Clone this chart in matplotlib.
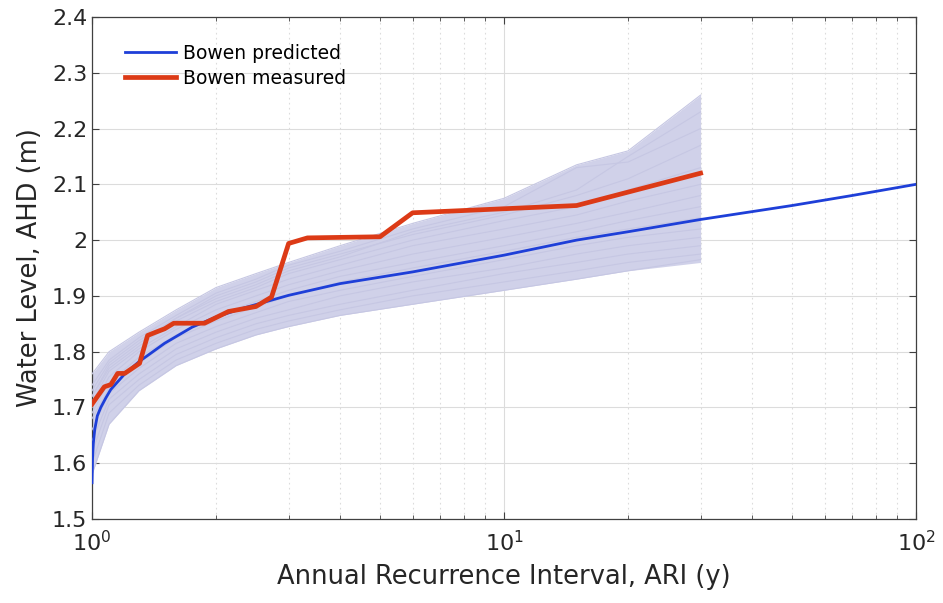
import matplotlib
matplotlib.use("Agg")
import matplotlib.pyplot as plt
from matplotlib.ticker import LogLocator, NullFormatter

# ---------------- data ----------------
pred_x = [1.0, 1.003, 1.007, 1.015, 1.03, 1.05, 1.08, 1.11, 1.2, 1.3, 1.5, 1.75,
          2.0, 2.3, 3.0, 4.0, 6.0, 10.0, 15.0, 20.0, 30.0, 50.0, 70.0, 100.0]
pred_y = [1.565, 1.610, 1.635, 1.660, 1.685, 1.700, 1.717, 1.732, 1.760, 1.782, 1.815, 1.844,
          1.862, 1.877, 1.901, 1.922, 1.943, 1.973, 2.000, 2.015, 2.037, 2.062, 2.080, 2.100]

meas_x = [1.0, 1.071, 1.111, 1.154, 1.2, 1.304, 1.364, 1.429, 1.5, 1.579, 1.875, 2.143,
          2.5, 2.727, 3.0, 3.333, 5.0, 6.0, 15.0, 30.0]
meas_y = [1.706, 1.737, 1.741, 1.761, 1.761, 1.779, 1.829, 1.835, 1.841, 1.851, 1.851, 1.872,
          1.881, 1.898, 1.994, 2.004, 2.006, 2.049, 2.062, 2.120]

ens_x = [1.0, 1.1, 1.3, 1.6, 2.0, 2.5, 3.0, 4.0, 6.0, 10.0, 15.0, 20.0, 30.0]
ens_low = [1.58, 1.67, 1.73, 1.775, 1.805, 1.83, 1.845, 1.865, 1.885, 1.91, 1.93, 1.945, 1.96]
ens_high = [1.76, 1.80, 1.835, 1.875, 1.915, 1.94, 1.96, 1.99, 2.03, 2.075, 2.135, 2.16, 2.26]
ens_members = [
    [1.58, 1.67, 1.73, 1.775, 1.805, 1.83, 1.845, 1.865, 1.885, 1.91, 1.93, 1.945, 1.965],
    [1.60, 1.69, 1.74, 1.785, 1.815, 1.84, 1.855, 1.875, 1.90, 1.925, 1.945, 1.96, 1.975],
    [1.62, 1.705, 1.75, 1.795, 1.825, 1.85, 1.865, 1.885, 1.91, 1.94, 1.96, 1.975, 1.99],
    [1.64, 1.715, 1.76, 1.805, 1.835, 1.86, 1.875, 1.90, 1.925, 1.95, 1.975, 1.99, 2.005],
    [1.66, 1.725, 1.77, 1.815, 1.845, 1.87, 1.89, 1.91, 1.935, 1.965, 1.99, 2.005, 2.02],
    [1.68, 1.735, 1.78, 1.825, 1.855, 1.88, 1.90, 1.925, 1.95, 1.98, 2.005, 2.02, 2.04],
    [1.69, 1.745, 1.79, 1.83, 1.865, 1.89, 1.91, 1.935, 1.96, 1.99, 2.015, 2.035, 2.06],
    [1.70, 1.755, 1.80, 1.84, 1.875, 1.90, 1.92, 1.945, 1.975, 2.005, 2.03, 2.05, 2.08],
    [1.71, 1.765, 1.805, 1.845, 1.885, 1.91, 1.93, 1.955, 1.99, 2.02, 2.045, 2.07, 2.10],
    [1.72, 1.77, 1.81, 1.855, 1.89, 1.915, 1.94, 1.965, 2.0, 2.035, 2.06, 2.09, 2.13],
    [1.73, 1.78, 1.82, 1.86, 1.90, 1.925, 1.95, 1.975, 2.01, 2.045, 2.08, 2.11, 2.17],
    [1.74, 1.785, 1.825, 1.865, 1.905, 1.93, 1.955, 1.98, 2.02, 2.06, 2.13, 2.14, 2.20],
    [1.76, 1.80, 1.835, 1.875, 1.915, 1.94, 1.96, 1.99, 2.03, 2.075, 2.135, 2.16, 2.26],
    [1.72, 1.775, 1.815, 1.86, 1.895, 1.92, 1.945, 1.97, 2.015, 2.05, 2.09, 2.15, 2.23],
]

y_ticks = [1.5, 1.6, 1.7, 1.8, 1.9, 2.0, 2.1, 2.2, 2.3, 2.4]
y_ticklabels = ["1.5", "1.6", "1.7", "1.8", "1.9", "2", "2.1", "2.2", "2.3", "2.4"]

# ---------------- plot ----------------
plt.rcParams['font.family'] = ['DejaVu Sans']
fig = plt.figure(figsize=(9.43, 6.03), dpi=100)
ax = fig.add_axes([0.0976, 0.1393, 0.8738, 0.8325])

ens_color = '#c6c7e3'
ax.fill_between(ens_x, ens_low, ens_high, color='#d0d1e9', lw=0, zorder=2)
for m in ens_members:
    ax.plot(ens_x, m, color=ens_color, lw=0.8, zorder=3)

ax.plot(pred_x, pred_y, color='#1e3fd8', lw=2.0, zorder=5, label='Bowen predicted')
ax.plot(meas_x, meas_y, color='#dc3a16', lw=3.4, zorder=6, label='Bowen measured')

ax.set_xscale('log')
ax.set_xlim(1, 100)
ax.set_ylim(1.5, 2.4)
ax.set_yticks(y_ticks)
ax.set_yticklabels(y_ticklabels)
ax.xaxis.set_minor_locator(LogLocator(base=10, subs=range(2, 10)))
ax.xaxis.set_minor_formatter(NullFormatter())

ax.grid(True, which='major', color='#dcdcdc', lw=0.8, ls='-', zorder=0)
ax.grid(True, which='minor', axis='x', color='#dcdcdc', lw=0.8, ls=(0, (1.5, 3)), zorder=0)
ax.set_axisbelow(True)

for s in ax.spines.values():
    s.set_color('#404040')
    s.set_linewidth(0.9)
ax.tick_params(axis='both', which='both', direction='in', top=True, right=True,
               colors='#404040', labelcolor='#262626', labelsize=16)
ax.tick_params(which='major', length=5)
ax.tick_params(which='minor', length=3)
ax.tick_params(axis='x', pad=8)

ax.set_xlabel('Annual Recurrence Interval, ARI (y)', fontsize=18.5, color='#262626', labelpad=6)
ax.set_ylabel('Water Level, AHD (m)', fontsize=18.5, color='#262626', labelpad=6)

leg = ax.legend(loc='upper left', bbox_to_anchor=(0.02, 0.98), frameon=False,
                fontsize=13.5, handlelength=2.7, handletextpad=0.35, labelspacing=0.32)

fig.savefig('out.png', dpi=100)
